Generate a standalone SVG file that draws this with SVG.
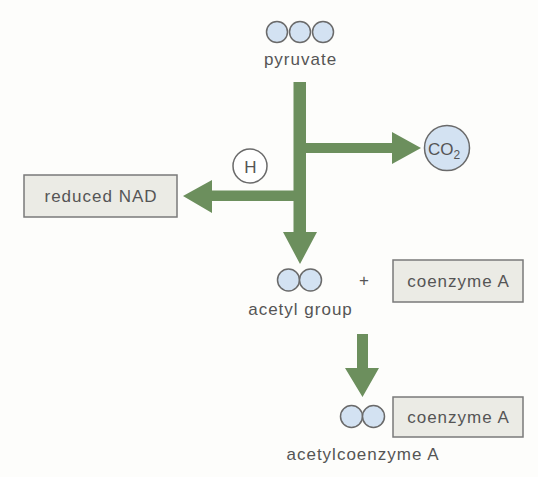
<svg xmlns="http://www.w3.org/2000/svg" width="538" height="477" viewBox="0 0 538 477">
<style>
text{font-family:"Liberation Sans",Arial,sans-serif;font-size:17px;fill:#555;letter-spacing:1px;text-anchor:middle}
.mol{fill:#d3e2f2;stroke:#6a6a6a;stroke-width:1.5}
.box{fill:#ebebe5;stroke:#7a7a7a;stroke-width:1.5}
.arr{fill:#6c8f5d}
</style>
<rect width="538" height="477" fill="#fdfdfb"/>
<g id="connectors">
<path class="arr" d="M293.5,82 H306 V143 H392 V132 L421,148 L392,164 V153 H306 V232 H317 L300,264 L283,232 H293.5 V201 H212 V213 L183,196 L212,180 V190.5 H293.5 Z"/>
<path class="arr" d="M357,334 H368 V368 H379 L362.5,397 L345,368 H357 Z"/>
</g>
<g id="pyruvate">
<circle class="mol" cx="277" cy="32" r="10.5"/>
<circle class="mol" cx="300" cy="32" r="10.5"/>
<circle class="mol" cx="323" cy="32" r="10.5"/>
<text x="300.5" y="65">pyruvate</text>
</g>
<g id="co2">
<circle class="mol" cx="447" cy="148" r="22.5"/>
<text x="444" y="155" style="letter-spacing:0;font-size:17px">CO<tspan font-size="12" dy="4">2</tspan></text>
</g>
<g id="h">
<circle cx="250" cy="166" r="17" fill="#fff" stroke="#6a6a6a" stroke-width="1.5"/>
<text x="250.5" y="172.5" style="letter-spacing:0">H</text>
</g>
<g id="reduced-nad">
<rect class="box" x="24" y="175" width="153" height="42"/>
<text x="101" y="202">reduced NAD</text>
</g>
<g id="acetyl-group">
<circle class="mol" cx="288.5" cy="280" r="11"/>
<circle class="mol" cx="310.5" cy="280" r="11"/>
<text x="300.5" y="315">acetyl group</text>
</g>
<g id="plus">
<text x="364" y="286" style="letter-spacing:0">+</text>
</g>
<g id="coenzyme-a-1">
<rect class="box" x="393" y="260" width="130" height="42"/>
<text x="458.5" y="287">coenzyme A</text>
</g>
<g id="acetylcoenzyme-a">
<circle class="mol" cx="351.5" cy="416.5" r="11"/>
<circle class="mol" cx="373.5" cy="416.5" r="11"/>
<text x="363" y="460">acetylcoenzyme A</text>
</g>
<g id="coenzyme-a-2">
<rect class="box" x="393" y="397" width="130" height="40"/>
<text x="458.5" y="423">coenzyme A</text>
</g>
</svg>
